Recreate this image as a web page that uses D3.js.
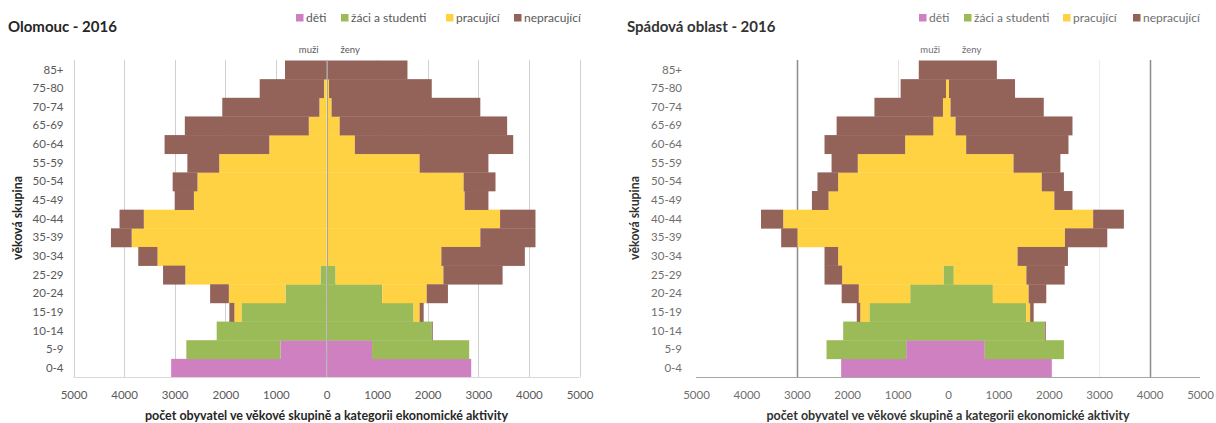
<!DOCTYPE html>
<html>
<head>
<meta charset="utf-8">
<script src="https://cdn.jsdelivr.net/npm/d3@7"></script>
<style>
  html, body { margin: 0; padding: 0; background: #fff; }
  svg { display: block; font-family: Lato, "Open Sans", sans-serif; }
</style>
</head>
<body>
<svg id="chart" width="1216" height="423"></svg>
<script>
// Age groups, bottom to top
const ageGroups = ["0-4","5-9","10-14","15-19","20-24","25-29","30-34","35-39","40-44",
                   "45-49","50-54","55-59","60-64","65-69","70-74","75-80","85+"];
const seriesKeys = ["deti","zaci","pracujici","nepracujici"];
const seriesLabels = ["děti","žáci a studenti","pracující","nepracující"];
const xTickValues = [-5000,-4000,-3000,-2000,-1000,0,1000,2000,3000,4000,5000];

// Olomouc – muži
const olMuziDeti        = [3070, 910,    0,    0,    0,    0,    0,    0,    0,    0,    0,    0,    0,    0,    0,    0,   0];
const olMuziZaci        = [   0,1860, 2170, 1680,  810,  120,    0,    0,    0,    0,    0,    0,    0,    0,    0,    0,   0];
const olMuziPracujici   = [   0,   0,    0,  140, 1120, 2670, 3340, 3850, 3610, 2620, 2550, 2120, 1130,  350,  140,   50,   0];
const olMuziNepracujici = [   0,   0,    0,  100,  370,  440,  380,  410,  480,  380,  490,  630, 2070, 2450, 1920, 1270, 820];
// Olomouc – ženy
const olZenyDeti        = [2860, 900,    0,    0,    0,    0,    0,    0,    0,    0,    0,    0,    0,    0,    0,    0,    0];
const olZenyZaci        = [   0,1920, 2080, 1720, 1100,  180,    0,    0,    0,    0,    0,    0,    0,    0,    0,    0,    0];
const olZenyPracujici   = [   0,   0,    0,  120,  880, 2130, 2270, 3040, 3430, 2730, 2710, 1840,  560,  260,  100,   50,    0];
const olZenyNepracujici = [   0,   0,   20,   80,  420, 1170, 1650, 1090,  700,  470,  630, 1360, 3130, 3310, 2940, 2030, 1600];
// Spádová oblast – muži
const soMuziDeti        = [2120, 830,    0,    0,    0,    0,    0,    0,    0,    0,    0,    0,    0,    0,    0,    0,   0];
const soMuziZaci        = [   0,1580, 2080, 1560,  750,   90,    0,    0,    0,    0,    0,    0,    0,    0,    0,    0,   0];
const soMuziPracujici   = [   0,   0,    0,  180, 1020, 2010, 2180, 2990, 3270, 2370, 2180, 1790,  850,  290,  100,   40,   0];
const soMuziNepracujici = [   0,   0,    0,   70,  340,  350,  270,  320,  440,  330,  410,  520, 1600, 1920, 1360,  900, 580];
// Spádová oblast – ženy
const soZenyDeti        = [2060, 730,    0,    0,    0,    0,    0,    0,    0,    0,    0,    0,    0,    0,    0,    0,   0];
const soZenyZaci        = [   0,1570, 1920, 1550,  890,  115,    0,    0,    0,    0,    0,    0,    0,    0,    0,    0,   0];
const soZenyPracujici   = [   0,   0,    0,   80,  710, 1440, 1380, 2320, 2880, 2110, 1860, 1300,  360,  150,   50,   20,   0];
const soZenyNepracujici = [   0,   0,   20,   70,  350,  760, 1000, 840,  610,  360,  440,  930, 2030, 2320, 1850, 1310, 970];

const colors = { deti: "#cf80c1", zaci: "#9bbb59", pracujici: "#ffd244", nepracujici: "#93635a" };

function table(d, z, p, n) {
  return ageGroups.map((age, i) => ({ age, deti: d[i], zaci: z[i], pracujici: p[i], nepracujici: n[i] }));
}

const svg = d3.select("#chart");
svg.append("rect").attr("width", 1216).attr("height", 423).attr("fill", "#fff");

const stack = d3.stack().keys(seriesKeys);

function drawPyramid(cfg) {
  const g = svg.append("g");
  const x = d3.scaleLinear().domain([-5000, 5000]).range([cfg.x0, cfg.x1]);
  const y = d3.scaleBand().domain(ageGroups).range([377.5, 60.5]).padding(0);

  // gridlines
  cfg.grid.forEach(gl => {
    g.append("line")
      .attr("x1", Math.round(x(gl.v)) + 0.5).attr("x2", Math.round(x(gl.v)) + 0.5)
      .attr("y1", 60).attr("y2", 377.5)
      .attr("stroke", gl.c).attr("stroke-width", gl.w || 1);
  });

  const men = stack(table(...cfg.men));
  const women = stack(table(...cfg.women));

  men.forEach(layer => {
    g.append("g").attr("fill", colors[layer.key])
      .selectAll("rect").data(layer).join("rect")
      .attr("x", d => x(-d[1]))
      .attr("width", d => x(-d[0]) - x(-d[1]))
      .attr("y", d => y(d.data.age))
      .attr("height", y.bandwidth() + 0.3);
  });
  women.forEach(layer => {
    g.append("g").attr("fill", colors[layer.key])
      .selectAll("rect").data(layer).join("rect")
      .attr("x", d => x(d[0]))
      .attr("width", d => x(d[1]) - x(d[0]))
      .attr("y", d => y(d.data.age))
      .attr("height", y.bandwidth() + 0.3);
  });

  // centre axis over bars
  if (cfg.zeroLine) {
    g.append("line")
      .attr("x1", Math.round(x(0)) + 0.5).attr("x2", Math.round(x(0)) + 0.5)
      .attr("y1", 60).attr("y2", 377.5)
      .attr("stroke", "#a6a6a6").attr("stroke-width", 1);
  }

  // baseline
  g.append("line")
    .attr("x1", cfg.x0).attr("x2", cfg.x1)
    .attr("y1", 377.5).attr("y2", 377.5)
    .attr("stroke", cfg.baseColor).attr("stroke-width", 1.2);

  // x axis
  const xa = g.append("g").attr("transform", "translate(0,377.5)")
    .call(d3.axisBottom(x).tickValues(xTickValues).tickFormat(d => Math.abs(d)).tickSize(0).tickPadding(13));
  xa.select(".domain").remove();
  xa.selectAll("text").attr("fill", cfg.textColor).attr("font-size", 11.5)
    .attr("font-family", "Lato, sans-serif");

  // y axis
  const ya = g.append("g").attr("transform", `translate(${cfg.x0},0)`)
    .call(d3.axisLeft(y).tickSize(0).tickPadding(cfg.yPad));
  ya.select(".domain").remove();
  ya.selectAll("text").attr("fill", cfg.textColor).attr("font-size", 11.5)
    .attr("font-family", "Lato, sans-serif");

  // axis titles
  g.append("text")
    .attr("transform", `translate(${cfg.yTitleX},218) rotate(-90)`)
    .attr("text-anchor", "middle").attr("dy", "0.35em")
    .attr("font-size", 12.3).attr("font-weight", "bold").attr("fill", cfg.titleColor)
    .text("věková skupina");
  g.append("text")
    .attr("x", x(0)).attr("y", 416).attr("dy", "0.35em")
    .attr("text-anchor", "middle")
    .attr("font-size", 12.5).attr("font-weight", "bold").attr("fill", cfg.titleColor)
    .text("počet obyvatel ve věkové skupině a kategorii ekonomické aktivity");

  // sex labels
  g.append("text").attr("x", x(0) - 8).attr("y", 50).attr("dy", "0.35em")
    .attr("text-anchor", "end").attr("font-size", 9.5).attr("fill", cfg.textColor).text("muži");
  g.append("text").attr("x", x(0) + 14).attr("y", 50).attr("dy", "0.35em")
    .attr("text-anchor", "start").attr("font-size", 9.5).attr("fill", cfg.textColor).text("ženy");

  // chart title
  g.append("text").attr("x", cfg.titleX).attr("y", 27).attr("dy", "0.35em")
    .attr("font-size", 15).attr("font-weight", "bold").attr("fill", cfg.titleColor)
    .text(cfg.title);

  // legend
  seriesKeys.forEach((k, i) => {
    const lx = cfg.legendX[i];
    g.append("rect").attr("x", lx).attr("y", 14).attr("width", 7.5).attr("height", 7.5).attr("fill", colors[k]);
    g.append("text").attr("x", lx + 10).attr("y", 18).attr("dy", "0.35em")
      .attr("font-size", 12).attr("fill", cfg.textColor).text(seriesLabels[i]);
  });
}

drawPyramid({
  title: "Olomouc - 2016",
  titleX: 8,
  x0: 73.5, x1: 579.5,
  yPad: 10, yTitleX: 18,
  legendX: [296, 341, 446, 514],
  textColor: "#595959", titleColor: "#262626", baseColor: "#d9d9d9",
  zeroLine: true,
  grid: xTickValues.map(v => ({ v, c: "#d0d0d0" })),
  men: [olMuziDeti, olMuziZaci, olMuziPracujici, olMuziNepracujici],
  women: [olZenyDeti, olZenyZaci, olZenyPracujici, olZenyNepracujici]
});

drawPyramid({
  title: "Spádová oblast - 2016",
  titleX: 627,
  x0: 696, x1: 1200,
  yPad: 14, yTitleX: 635,
  legendX: [919, 964, 1063, 1133],
  textColor: "#6f6f6f", titleColor: "#333333", baseColor: "#a6a6a6",
  zeroLine: false,
  grid: [
    { v: -3000, c: "#8c8c8c", w: 1.5 },
    { v: -1000, c: "#e3e3e3" },
    { v: 3000, c: "#ececec" },
    { v: 4000, c: "#8c8c8c", w: 1.5 }
  ],
  men: [soMuziDeti, soMuziZaci, soMuziPracujici, soMuziNepracujici],
  women: [soZenyDeti, soZenyZaci, soZenyPracujici, soZenyNepracujici]
});
</script>
</body>
</html>
